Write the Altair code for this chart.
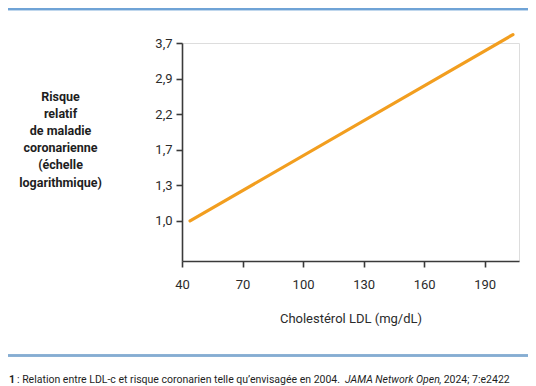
import altair as alt
import pandas as pd

# Data
ldl = [44, 204]                 # mg/dL
rr = [1.0, 3.95]                # relative risk (log scale)
x_ticks = [40, 70, 100, 130, 160, 190]
y_ticks = [1.0, 1.3, 1.69, 2.197, 2.8561, 3.71293]
y_title = ["Risque", "relatif", "de maladie", "coronarienne", "(échelle", "logarithmique)"]
x_title = "Cholestérol LDL (mg/dL)"
cap_num = "1"
cap_text = ": Relation entre LDL-c et risque coronarien telle qu’envisagée en 2004."
cap_journal = "JAMA Network Open"
cap_tail = ", 2024; 7:e2422"

FONT = "Roboto"
CAP_FS = 10.5
df = pd.DataFrame({"ldl": ldl, "rr": rr})

W, H = 337, 218
PL, PT = 174, 35
PR = 520 - PL - W
PB = 378 - PT - H

x = alt.X("ldl:Q",
          scale=alt.Scale(domain=[40, 207], nice=False, zero=False),
          axis=alt.Axis(values=x_ticks, title=x_title, grid=False,
                        domainColor="#3a3a3a", domainWidth=1.6,
                        tickColor="#3a3a3a", tickWidth=1.6, tickSize=6,
                        labelFont=FONT, labelFontSize=13, labelColor="#2b2b2b",
                        labelPadding=11, labelFlush=False,
                        titleFont=FONT, titleFontSize=13, titleFontWeight="normal",
                        titleColor="#2b2b2b", titlePadding=21))
y = alt.Y("rr:Q",
          scale=alt.Scale(type="log", domain=[0.744, 3.713], nice=False, zero=False),
          axis=alt.Axis(values=y_ticks, grid=False,
                        labelExpr="replace(format(datum.value, '.1f'), '.', ',')",
                        domainColor="#3a3a3a", domainWidth=1.6,
                        tickColor="#3a3a3a", tickWidth=1.6, tickSize=6,
                        labelFont=FONT, labelFontSize=13, labelColor="#2b2b2b",
                        labelPadding=4,
                        title=y_title, titleAngle=0, titleAlign="center",
                        titleBaseline="top", titleX=-122, titleY=47,
                        titleLineHeight=17.2,
                        titleFont=FONT, titleFontSize=12.5, titleFontWeight="bold",
                        titleColor="#1e1e1e"))

line = alt.Chart(df).mark_line(color="#F29E1F", strokeWidth=3.2, strokeCap="round",
                               clip=False).encode(x=x, y=y)

top_rule = alt.Chart(df).mark_rule(color="#6fa3d6", strokeWidth=2.5).encode(
    x=alt.value(-PL), x2=alt.value(W + PR), y=alt.value(-PT + 1))
bottom_rule = alt.Chart(df).mark_rule(color="#86add2", strokeWidth=2.5).encode(
    x=alt.value(-PL), x2=alt.value(W + PR), y=alt.value(312.5))

cap_y = 337
c1 = alt.Chart(pd.DataFrame({"t": [cap_num]})).mark_text(
    font=FONT, fontSize=CAP_FS, fontWeight="bold", align="left", baseline="middle",
    color="#1e1e1e").encode(text="t:N", x=alt.value(-PL + 1), y=alt.value(cap_y))
c2 = alt.Chart(pd.DataFrame({"t": [cap_text]})).mark_text(
    font=FONT, fontSize=CAP_FS, align="left", baseline="middle",
    color="#1e1e1e").encode(text="t:N", x=alt.value(-PL + 9), y=alt.value(cap_y))
c3 = alt.Chart(pd.DataFrame({"t": [cap_journal]})).mark_text(
    font=FONT, fontSize=CAP_FS, fontStyle="italic", align="left", baseline="middle",
    color="#1e1e1e").encode(text="t:N", x=alt.value(163), y=alt.value(cap_y))
c4 = alt.Chart(pd.DataFrame({"t": [cap_tail]})).mark_text(
    font=FONT, fontSize=CAP_FS, align="left", baseline="middle",
    color="#1e1e1e").encode(text="t:N", x=alt.value(257), y=alt.value(cap_y))

chart = alt.layer(line, top_rule, bottom_rule, c1, c2, c3, c4).properties(
    width=W, height=H,
    autosize=alt.AutoSizeParams(type="none"),
    padding={"left": PL, "top": PT, "right": PR, "bottom": PB},
).configure_view(stroke=None).configure(background="white")

chart.save("out.html", embed_options={"renderer": "svg", "actions": False})
